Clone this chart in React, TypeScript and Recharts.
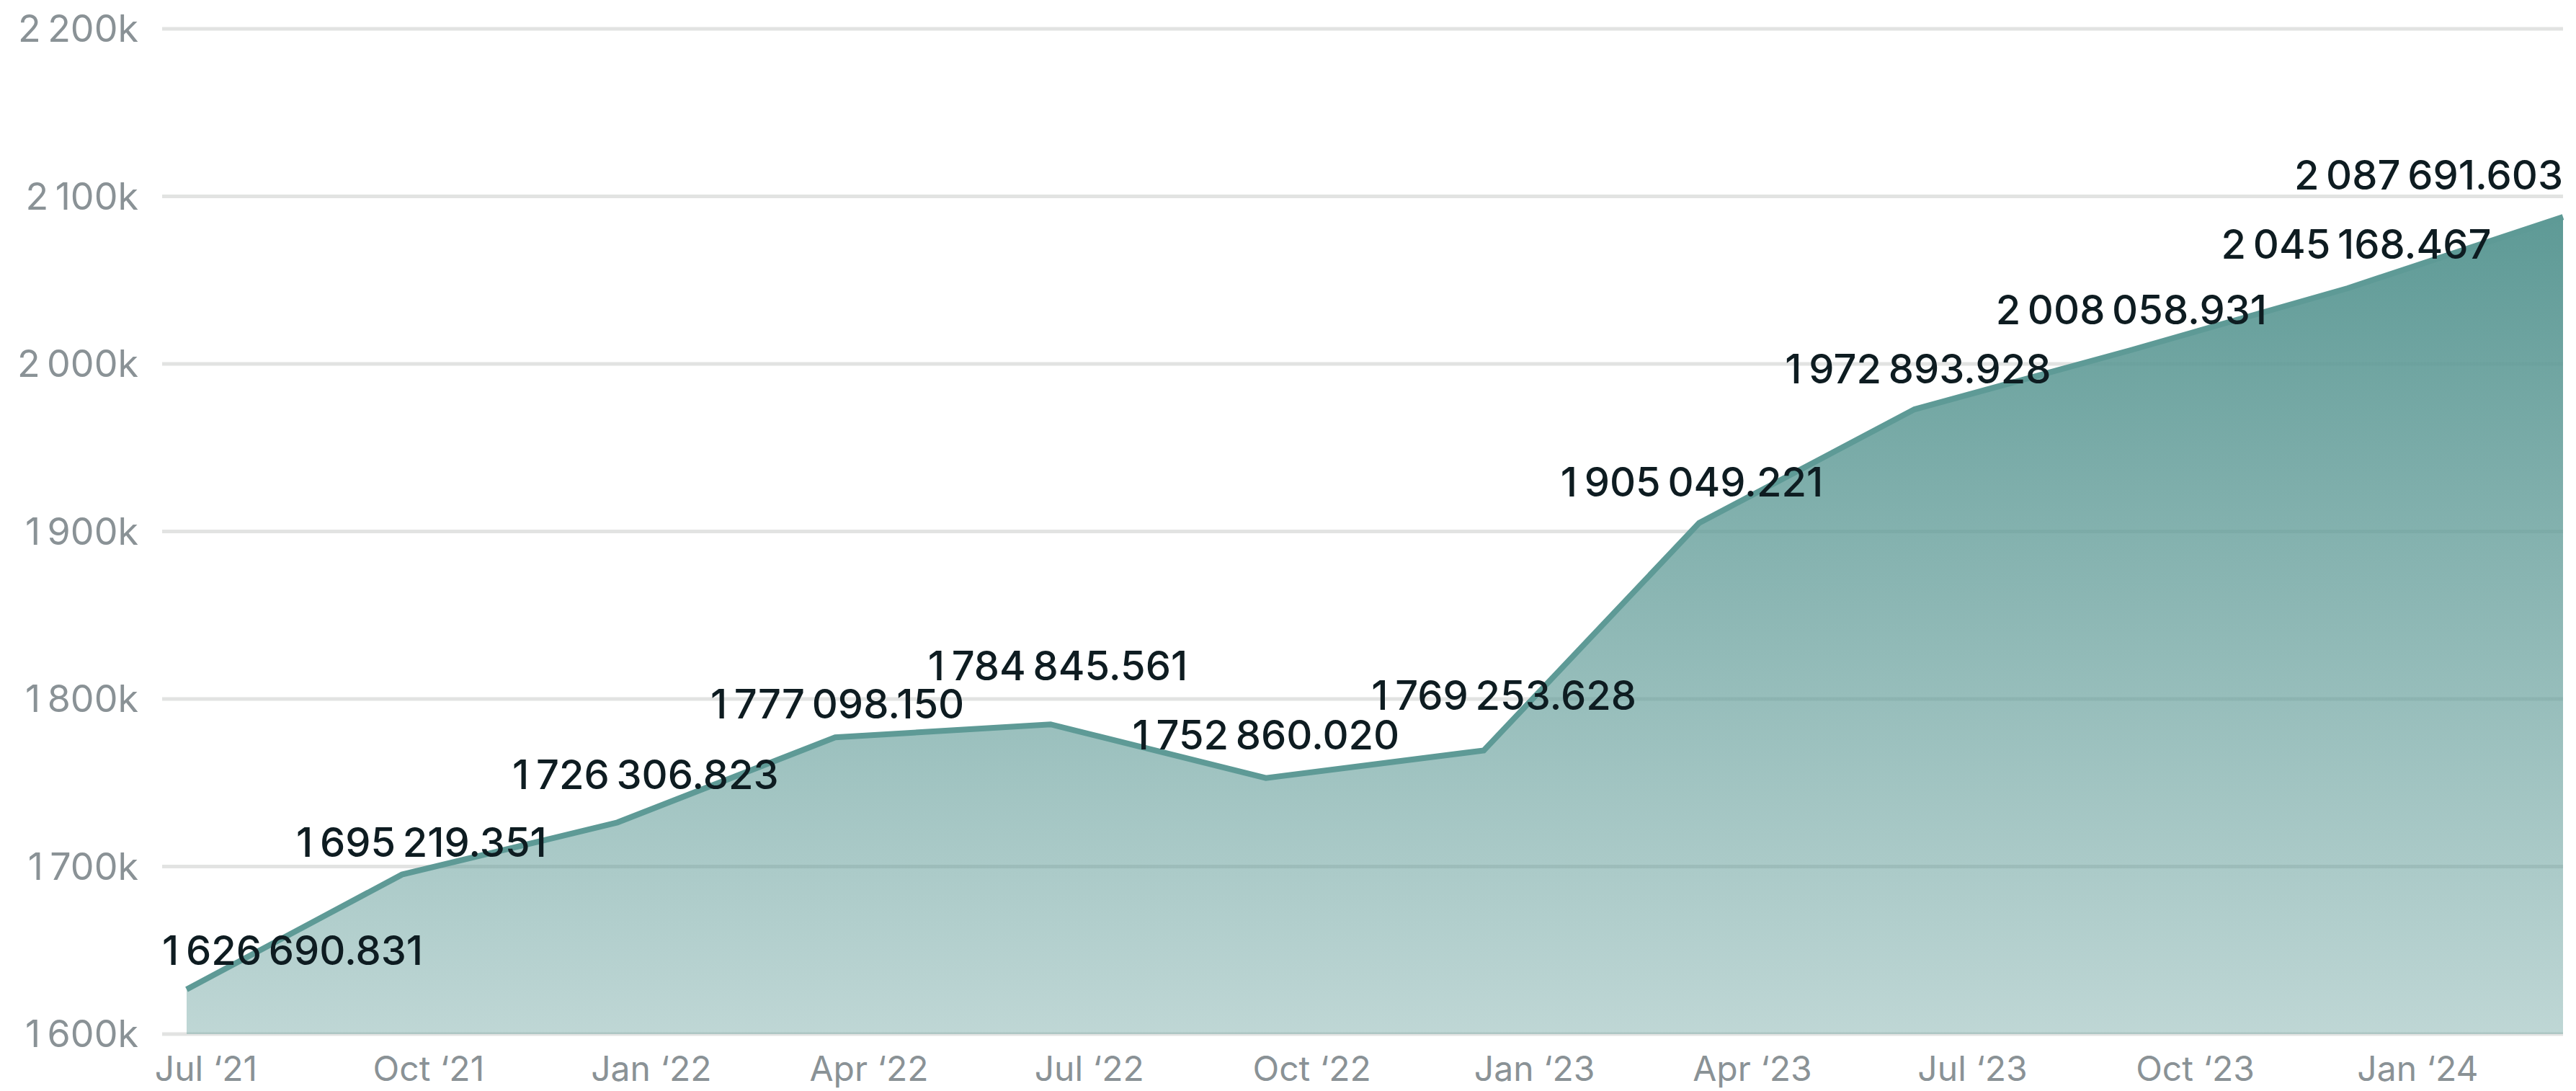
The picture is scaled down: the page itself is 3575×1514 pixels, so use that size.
import React from "react";
import { AreaChart, Area, XAxis, YAxis, CartesianGrid, LabelList } from "recharts";

// quarterly snapshots
const pointDates = [
  "2021-06-23",
  "2021-09-20",
  "2021-12-18",
  "2022-03-18",
  "2022-06-15",
  "2022-09-12",
  "2022-12-11",
  "2023-03-10",
  "2023-06-07",
  "2023-09-04",
  "2023-12-03",
  "2024-03-01",
];
const values = [
  1626690.831, 1695219.351, 1726306.823, 1777098.15, 1784845.561, 1752860.02,
  1769253.628, 1905049.221, 1972893.928, 2008058.931, 2045168.467, 2087691.603,
];

const tickDates = [
  "2021-07-01",
  "2021-10-01",
  "2022-01-01",
  "2022-04-01",
  "2022-07-01",
  "2022-10-01",
  "2023-01-01",
  "2023-04-01",
  "2023-07-01",
  "2023-10-01",
  "2024-01-01",
];
const tickLabels = [
  "Jul \u201821",
  "Oct \u201821",
  "Jan \u201822",
  "Apr \u201822",
  "Jul \u201822",
  "Oct \u201822",
  "Jan \u201823",
  "Apr \u201823",
  "Jul \u201823",
  "Oct \u201823",
  "Jan \u201824",
];
const yTicks = [1600000, 1700000, 1800000, 1900000, 2000000, 2100000, 2200000];

// small nudges so the value labels don't collide (px)
const labelDx = [0, 27, 39, 3, 10, 0, 28, -10, 5, 2, 12, 0];
const labelDy = [-34, -25, -46, -26, -61, -40, -56, -37, -36, -36, -41, -38];

const W = 3575;
const H = 1514;
const PLOT_LEFT = 225;
const PLOT_RIGHT = 3557;
const LINE = "#5e9a96";
const FONT = "Inter, 'Noto Sans', sans-serif";
const TS = "\u2009";

const tickTimes = tickDates.map((d) => new Date(d).getTime());
const data = pointDates.map((d, i) => ({ t: new Date(d).getTime(), value: values[i] }));

const group = (s: string) => s.replace(/\B(?=(\d{3})+(?!\d))/g, TS);
const fmtValue = (v: number) => {
  const [int, dec] = v.toFixed(3).split(".");
  return group(int) + "." + dec;
};
const fmtK = (v: number) => group(String(Math.round(v / 1000))) + "k";

let ctx: CanvasRenderingContext2D | null = null;
const measure = (s: string, size: number) => {
  if (!ctx) ctx = document.createElement("canvas").getContext("2d");
  if (!ctx) return s.length * size * 0.55;
  ctx.font = `500 ${size}px Inter`;
  return ctx.measureText(s).width;
};

const ValueLabel = (props: any) => {
  const { x, y, value, index } = props;
  const text = fmtValue(Number(value));
  const size = 56;
  const w = measure(text, size);
  let cx = x + (labelDx[index] || 0);
  if (cx - w / 2 < PLOT_LEFT) cx = PLOT_LEFT + w / 2;
  if (cx + w / 2 > PLOT_RIGHT) cx = PLOT_RIGHT - w / 2;
  return (
    <text
      x={cx}
      y={y + (labelDy[index] || -36)}
      textAnchor="middle"
      fill="#0e1c21"
      fontSize={size}
      fontWeight={500}
      fontFamily={FONT}
    >
      {text}
    </text>
  );
};

const App = () => {
  return (
    <div style={{ width: W, height: H, background: "#fff" }}>
      <style>{"body{margin:0}"}</style>
      <AreaChart width={W} height={H} data={data} margin={{ top: 40, right: W - PLOT_RIGHT, bottom: 0, left: 0 }}>
        <defs>
          <linearGradient id="areaFill" x1="0" y1="0" x2="0" y2="1">
            <stop offset="0%" stopColor={LINE} stopOpacity={1} />
            <stop offset="100%" stopColor={LINE} stopOpacity={0.4} />
          </linearGradient>
        </defs>
        <CartesianGrid vertical={false} stroke="#e2e3e2" strokeWidth={5} />
        <XAxis
          dataKey="t"
          type="number"
          domain={["dataMin", "dataMax"]}
          ticks={tickTimes}
          interval={0}
          tickFormatter={(v) => tickLabels[tickTimes.indexOf(v)]}
          axisLine={false}
          tickLine={false}
          tickSize={0}
          tickMargin={31}
          padding={{ left: 34, right: 0 }}
          height={79}
          tick={{ fill: "#8a9296", fontSize: 48, fontFamily: FONT }}
        />
        <YAxis
          type="number"
          domain={[1600000, 2200000]}
          ticks={yTicks}
          interval={0}
          tickFormatter={fmtK}
          axisLine={false}
          tickLine={false}
          tickSize={0}
          tickMargin={33}
          width={PLOT_LEFT}
          tick={{ fill: "#8a9296", fontSize: 52, fontFamily: FONT }}
        />
        <Area
          type="linear"
          dataKey="value"
          stroke={LINE}
          strokeWidth={8}
          fill="url(#areaFill)"
          fillOpacity={1}
          dot={false}
          activeDot={false}
          isAnimationActive={false}
        >
          <LabelList dataKey="value" content={<ValueLabel />} />
        </Area>
      </AreaChart>
    </div>
  );
};

export default App;
